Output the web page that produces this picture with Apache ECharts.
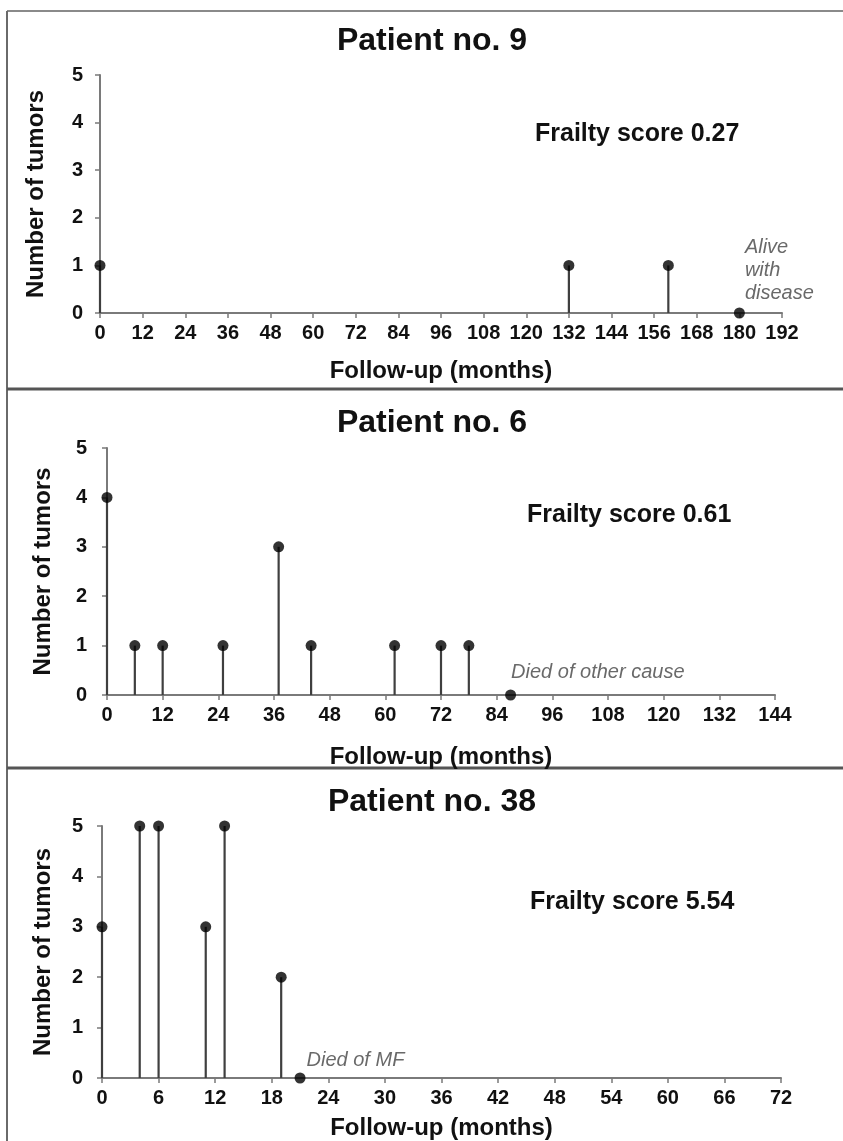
<!DOCTYPE html>
<html><head><meta charset="utf-8">
<script src="https://cdn.jsdelivr.net/npm/echarts@6/dist/echarts.min.js"></script>
<style>html,body{margin:0;padding:0;background:#fff}#c{width:843px;height:1141px}</style>
</head><body><div id="c"></div>
<script>
// Patient no. 9
var p9Months = [0, 132, 160];
var p9Tumors = [1, 1, 1];
var p9End = [180, 0];
// Patient no. 6
var p6Months = [0, 6, 12, 25, 37, 44, 62, 72, 78];
var p6Tumors = [4, 1, 1, 1, 3, 1, 1, 1, 1];
var p6End = [87, 0];
// Patient no. 38
var p38Months = [0, 4, 6, 11, 13, 19];
var p38Tumors = [3, 5, 5, 3, 5, 2];
var p38End = [21, 0];

var titles = ['Patient no. 9', 'Patient no. 6', 'Patient no. 38'];
var frailty = ['Frailty score 0.27', 'Frailty score 0.61', 'Frailty score 5.54'];
var endNotes = ['Alive\nwith\ndisease', 'Died of other cause', 'Died of MF'];
var xMax = [192, 144, 72];
var xStep = [12, 12, 6];
var yMax = 5, yStep = 1;
var xName = 'Follow-up (months)';
var yName = 'Number of tumors';

var FONT = 'Liberation Sans, Arial, sans-serif';
var panels = [
  {m: p9Months, t: p9Tumors, e: p9End},
  {m: p6Months, t: p6Tumors, e: p6End},
  {m: p38Months, t: p38Tumors, e: p38End}
];
var layout = [
  {left: 100, top: 75, width: 682, height: 238, titleY: 41, fx: 535, fy: 134, xGap: 46, yGap: 52, yMargin: 17,
   noteStyle: {position: [11, -72], align: 'left', verticalAlign: 'top', lineHeight: 23}},
  {left: 107, top: 448, width: 668, height: 247, titleY: 423, fx: 527, fy: 515, xGap: 50, yGap: 52, yMargin: 20,
   noteStyle: {position: [6, -17], align: 'left', verticalAlign: 'middle', lineHeight: 22}},
  {left: 102, top: 826, width: 679, height: 256, titleY: 802, fx: 530, fy: 902, xGap: 38, yGap: 47, yMargin: 19,
   noteStyle: {position: [12, -12], align: 'left', verticalAlign: 'middle', lineHeight: 22}}
];

var grids = [], xAxes = [], yAxes = [], series = [], graphics = [];
panels.forEach(function (p, i) {
  var L = layout[i];
  grids.push({left: L.left, top: L.top, width: L.width, height: L.height});
  xAxes.push({
    type: 'value', gridIndex: i, min: 0, max: xMax[i], interval: xStep[i],
    name: xName, nameLocation: 'middle', nameGap: L.xGap,
    nameTextStyle: {fontFamily: FONT, fontWeight: 'bold', fontSize: 24, color: '#111'},
    axisLine: {show: true, onZero: false, lineStyle: {color: '#7a7a7a', width: 2}},
    axisTick: {show: true, length: 5, lineStyle: {color: '#7a7a7a', width: 1.5}},
    axisLabel: {fontFamily: FONT, fontWeight: 'bold', fontSize: 20, color: '#111', margin: 10},
    splitLine: {show: false}
  });
  yAxes.push({
    type: 'value', gridIndex: i, min: 0, max: yMax, interval: yStep,
    name: yName, nameLocation: 'middle', nameGap: L.yGap, nameRotate: 90,
    nameTextStyle: {fontFamily: FONT, fontWeight: 'bold', fontSize: 24, color: '#111'},
    axisLine: {show: true, lineStyle: {color: '#7a7a7a', width: 2}},
    axisTick: {show: true, length: 5, lineStyle: {color: '#7a7a7a', width: 1.5}},
    axisLabel: {fontFamily: FONT, fontWeight: 'bold', fontSize: 20, color: '#111', margin: L.yMargin},
    splitLine: {show: false}
  });
  var pts = p.m.map(function (m, k) { return [m, p.t[k]]; });
  series.push({
    type: 'custom', xAxisIndex: i, yAxisIndex: i, data: pts, encode: {x: 0, y: 1}, silent: true,
    renderItem: function (params, api) {
      var a = api.coord([api.value(0), 0]);
      var b = api.coord([api.value(0), api.value(1)]);
      return {type: 'line', shape: {x1: a[0], y1: a[1], x2: b[0], y2: b[1]},
        style: {stroke: '#3f3f3f', lineWidth: 2.2}};
    }
  });
  series.push({
    type: 'scatter', xAxisIndex: i, yAxisIndex: i, data: pts, symbol: 'circle', symbolSize: 11,
    itemStyle: {color: '#000'}, clip: false, silent: true
  });
  var ns = L.noteStyle;
  series.push({
    type: 'scatter', xAxisIndex: i, yAxisIndex: i, data: [p.e], symbol: 'circle', symbolSize: 11,
    itemStyle: {color: '#000'}, clip: false, silent: true,
    label: {show: true, formatter: endNotes[i], position: ns.position, align: ns.align,
      verticalAlign: ns.verticalAlign, lineHeight: ns.lineHeight,
      fontFamily: FONT, fontStyle: 'italic', fontSize: 20, color: '#444'}
  });
  graphics.push({type: 'text', x: 432, y: L.titleY, silent: true,
    style: {text: titles[i], font: 'bold 32px ' + FONT, fill: '#111', textAlign: 'center', textVerticalAlign: 'middle'}});
  graphics.push({type: 'text', x: L.fx, y: L.fy, silent: true,
    style: {text: frailty[i], font: 'bold 25px ' + FONT, fill: '#111', textAlign: 'left', textVerticalAlign: 'middle'}});
});
// frame and separators
graphics.push({type: 'line', silent: true, shape: {x1: 7, y1: 11, x2: 843, y2: 11}, style: {stroke: '#8a8a8a', lineWidth: 2}});
graphics.push({type: 'line', silent: true, shape: {x1: 7, y1: 11, x2: 7, y2: 1141}, style: {stroke: '#6a6a6a', lineWidth: 2}});
graphics.push({type: 'line', silent: true, shape: {x1: 7, y1: 389, x2: 843, y2: 389}, style: {stroke: '#555', lineWidth: 3}});
graphics.push({type: 'line', silent: true, shape: {x1: 7, y1: 768, x2: 843, y2: 768}, style: {stroke: '#555', lineWidth: 3}});

var chart = echarts.init(document.getElementById('c'), null, {renderer: 'canvas'});
chart.setOption({
  animation: false,
  backgroundColor: '#fff',
  grid: grids, xAxis: xAxes, yAxis: yAxes, series: series, graphic: graphics
});
</script></body></html>
